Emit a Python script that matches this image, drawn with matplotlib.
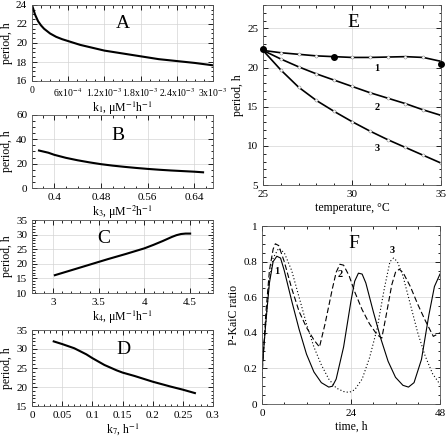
import numpy as np
import matplotlib
matplotlib.use('Agg')
import matplotlib.pyplot as plt
from matplotlib.ticker import AutoMinorLocator, FormatStrFormatter

plt.rcParams['font.family'] = ['Liberation Serif', 'DejaVu Serif']
plt.rcParams['mathtext.fontset'] = 'stix'

# Panel A: period vs k1
k1 = [1e-5, 5e-5, 1e-4, 1.5e-4, 2e-4, 3e-4, 4e-4, 5e-4, 6e-4, 8e-4, 1e-3,
      1.2e-3, 1.5e-3, 1.8e-3, 2.1e-3, 2.4e-3, 2.7e-3, 3e-3]
period_a = [23.8, 23.0, 22.3, 21.85, 21.5, 21.0, 20.65, 20.4, 20.2, 19.8, 19.5,
            19.2, 18.9, 18.6, 18.3, 18.1, 17.9, 17.65]

# Panel B: period vs k3
k3 = [0.374, 0.39, 0.40, 0.42, 0.44, 0.46, 0.48, 0.50, 0.52, 0.54, 0.56,
      0.58, 0.60, 0.62, 0.64, 0.655]
period_b = [30.8, 29.0, 27.3, 24.8, 22.8, 21.1, 19.6, 18.4, 17.4, 16.5, 15.7,
            15.0, 14.4, 13.9, 13.4, 12.9]

# Panel C: period vs k4
k4 = [3.02, 3.2, 3.4, 3.6, 3.8, 4.0, 4.1, 4.2, 4.3, 4.35, 4.4, 4.45, 4.5]
period_c = [16.1, 17.8, 19.7, 21.6, 23.4, 25.3, 26.5, 27.8, 29.2, 29.8, 30.2, 30.35, 30.35]

# Panel D: period vs k7
k7 = [0.036, 0.05, 0.07, 0.09, 0.10, 0.12, 0.14, 0.15, 0.17, 0.20, 0.23, 0.25, 0.27]
period_d = [32.0, 31.3, 30.2, 28.6, 27.6, 25.8, 24.4, 23.8, 22.9, 21.4, 20.1, 19.3, 18.4]

# Panel E: period vs temperature
temp = [25, 26, 27, 28, 29, 30, 31, 32, 33, 34, 35]
period_e1 = [22.2, 21.9, 21.7, 21.5, 21.4, 21.3, 21.3, 21.35, 21.4, 21.3, 20.8]
period_e2 = [22.2, 21.1, 20.1, 19.2, 18.4, 17.6, 16.8, 16.1, 15.4, 14.6, 13.9]
period_e3 = [22.2, 19.7, 17.5, 15.8, 14.4, 13.1, 11.9, 10.8, 9.8, 8.8, 7.8]
exp_temp = [25, 29, 35]
exp_period = [22.4, 21.4, 20.4]

# Panel F: P-KaiC ratio vs time
t1 = [0, 1, 2, 3, 4, 5, 6, 8, 10, 12, 14, 16, 18, 19, 20, 22, 24, 25, 26, 27, 28,
      30, 32, 34, 36, 38, 39.5, 41, 43, 45, 46.5, 48]
p1 = [0.19, 0.45, 0.68, 0.80, 0.83, 0.82, 0.75, 0.58, 0.42, 0.28, 0.18, 0.12, 0.095,
      0.10, 0.14, 0.32, 0.58, 0.69, 0.735, 0.73, 0.68, 0.52, 0.37, 0.24, 0.15, 0.105,
      0.095, 0.12, 0.25, 0.50, 0.66, 0.73]
t2 = [0, 1, 2, 3, 3.6, 4.5, 6, 8, 10, 12, 14, 15.5, 17, 19, 20, 21, 22, 23.5, 25, 27,
      29, 31, 32.3, 33.5, 35, 36, 37, 38, 40, 42, 44, 46.2, 48]
p2 = [0.15, 0.50, 0.75, 0.87, 0.90, 0.89, 0.80, 0.65, 0.52, 0.43, 0.36, 0.32, 0.45,
      0.65, 0.74, 0.785, 0.78, 0.72, 0.63, 0.53, 0.45, 0.39, 0.37, 0.50, 0.67, 0.74,
      0.757, 0.74, 0.66, 0.56, 0.47, 0.38, 0.40]
t3 = [0, 1, 2, 3, 4.5, 6, 8, 10, 12, 14, 16, 18, 20, 22, 23.5, 25, 27, 29, 31, 33,
      34.5, 35.5, 36.5, 38, 40, 42, 44, 46, 48]
p3 = [0.20, 0.45, 0.70, 0.82, 0.875, 0.85, 0.75, 0.60, 0.45, 0.32, 0.22, 0.14, 0.09,
      0.07, 0.065, 0.08, 0.14, 0.26, 0.42, 0.65, 0.80, 0.82, 0.80, 0.72, 0.56, 0.40,
      0.27, 0.17, 0.11]

FS = 8.5   # axis labels
TS = 8     # tick labels
W, H = 446, 436


def style(ax):
    ax.tick_params(which='both', direction='in', top=True, right=True,
                   labelsize=TS, width=0.6)
    ax.tick_params(which='major', length=3.5)
    ax.tick_params(which='minor', length=1.8)
    ax.xaxis.set_minor_locator(AutoMinorLocator())
    ax.yaxis.set_minor_locator(AutoMinorLocator())
    ax.grid(True, which='major', color='#d4d4d4', linewidth=0.5)
    ax.set_axisbelow(True)
    for s in ax.spines.values():
        s.set_linewidth(0.6)
        s.set_color('#555555')


def box(l, t, r, b):
    return [l / W, 1 - b / H, (r - l) / W, (b - t) / H]


fig = plt.figure(figsize=(W / 100, H / 100), dpi=100)

# A
ax = fig.add_axes(box(32, 5, 213, 81))
ax.plot(k1, period_a, color='black', lw=1.5)
ax.set_xlim(0, 3e-3)
ax.set_ylim(16, 24)
ax.set_xticks([0, 6e-4, 1.2e-3, 1.8e-3, 2.4e-3, 3e-3],
              ['0', r'6x10$^{-4}$', r'1.2x10$^{-3}$', r'1.8x10$^{-3}$',
               r'2.4x10$^{-3}$', r'3x10$^{-3}$'])
ax.set_yticks([16, 18, 20, 22, 24])
style(ax)
ax.tick_params(axis='x', labelsize=7)
ax.set_ylabel('period, h', fontsize=FS, labelpad=2)
ax.set_xlabel(r'k$_1$, μM$^{-1}$h$^{-1}$', fontsize=FS, labelpad=1)
ax.text(1.5e-3, 22, 'A', fontsize=14, ha='center', va='center')

# B
ax = fig.add_axes(box(32, 115, 213, 188))
ax.plot(k3, period_b, color='black', lw=1.5)
ax.set_xlim(0.362, 0.672)
ax.set_ylim(0, 60)
ax.set_xticks([0.4, 0.48, 0.56, 0.64])
ax.set_yticks([0, 20, 40, 60])
ax.xaxis.set_major_formatter(FormatStrFormatter('%g'))
style(ax)
ax.set_ylabel('period, h', fontsize=FS, labelpad=2)
ax.set_xlabel(r'k$_3$, μM$^{-2}$h$^{-1}$', fontsize=FS, labelpad=1)
ax.text(0.51, 43, 'B', fontsize=14, ha='center', va='center')

# C
ax = fig.add_axes(box(32, 220, 213, 293))
ax.plot(k4, period_c, color='black', lw=1.5)
ax.set_xlim(2.77, 4.75)
ax.set_ylim(10, 35)
ax.set_xticks([3, 3.5, 4, 4.5])
ax.set_yticks([10, 15, 20, 25, 30, 35])
ax.xaxis.set_major_formatter(FormatStrFormatter('%g'))
style(ax)
ax.set_ylabel('period, h', fontsize=FS, labelpad=2)
ax.set_xlabel(r'k$_4$, μM$^{-1}$h$^{-1}$', fontsize=FS, labelpad=1)
ax.text(3.55, 28.5, 'C', fontsize=14, ha='center', va='center')

# D
ax = fig.add_axes(box(32, 330, 213, 406))
ax.plot(k7, period_d, color='black', lw=1.5)
ax.set_xlim(0, 0.3)
ax.set_ylim(15, 35)
ax.set_xticks([0, 0.05, 0.1, 0.15, 0.2, 0.25, 0.3])
ax.set_yticks([15, 20, 25, 30, 35])
ax.xaxis.set_major_formatter(FormatStrFormatter('%g'))
style(ax)
ax.set_ylabel('period, h', fontsize=FS, labelpad=2)
ax.set_xlabel(r'k$_7$, h$^{-1}$', fontsize=FS, labelpad=1)
ax.text(0.152, 29.8, 'D', fontsize=14, ha='center', va='center')

# E
ax = fig.add_axes(box(263, 5, 441, 185))
for y in [period_e1, period_e2, period_e3]:
    ax.plot(temp, y, color='black', lw=1.2, marker='o', markersize=2.2,
            markerfacecolor='white', markeredgecolor='#666666',
            markeredgewidth=0.3, markevery=0.045)
ax.plot(exp_temp, exp_period, 'o', color='black', markersize=4, clip_on=False, zorder=5)
ax.set_xlim(25, 35)
ax.set_ylim(5, 28)
ax.set_xticks([25, 30, 35])
ax.set_yticks([5, 10, 15, 20, 25])
style(ax)
ax.set_ylabel('period, h', fontsize=FS, labelpad=2)
ax.set_xlabel('temperature, °C', fontsize=FS, labelpad=2)
ax.text(30.1, 25.8, 'E', fontsize=14, ha='center', va='center')
for lab, yy in zip(['1', '2', '3'], [19.9, 14.9, 9.7]):
    ax.text(31.4, yy, lab, fontsize=7.5, fontweight='bold', ha='center', va='center')

# F
ax = fig.add_axes(box(262, 226, 440, 404))
ax.plot(t1, p1, color='black', lw=0.8, ls='-')
ax.plot(t2, p2, color='black', lw=0.8, ls=(0, (5, 2.5)))
ax.plot(t3, p3, color='black', lw=0.8, ls=(0, (1, 2)))
ax.set_xlim(0, 48)
ax.set_ylim(0, 1)
ax.set_xticks([0, 24, 48])
ax.set_yticks([0, 0.2, 0.4, 0.6, 0.8, 1])
ax.yaxis.set_major_formatter(FormatStrFormatter('%g'))
style(ax)
ax.set_ylabel('P-KaiC ratio', fontsize=FS, labelpad=2)
ax.set_xlabel('time, h', fontsize=FS, labelpad=2)
ax.text(24.7, 0.9, 'F', fontsize=14, ha='center', va='center')
for lab, tx, ty in zip(['1', '2', '3'], [4.0, 21.1, 35.2], [0.745, 0.73, 0.865]):
    ax.text(tx, ty, lab, fontsize=7.5, fontweight='bold', ha='center', va='center')

fig.savefig('out.png', dpi=100)
